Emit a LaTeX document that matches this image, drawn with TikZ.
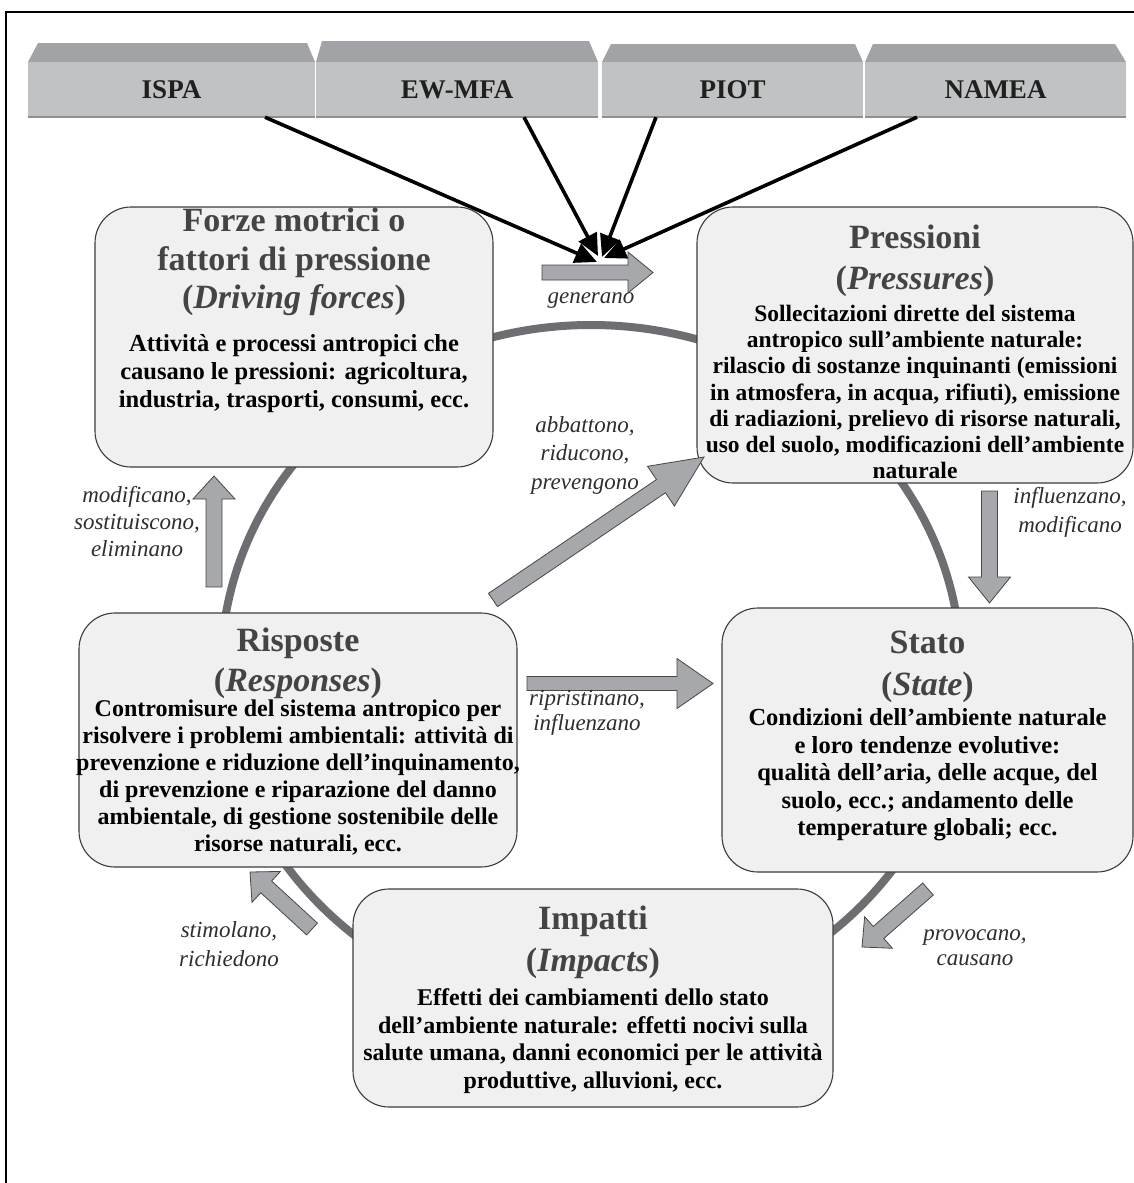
\documentclass[tikz,border=0pt]{standalone}
\usepackage{fontspec}
\setmainfont{Liberation Serif}
\usetikzlibrary{calc,arrows.meta}

\definecolor{boxfill}{HTML}{F0F0F0}
\definecolor{boxline}{HTML}{3C3C3C}
\definecolor{ringgray}{HTML}{6D6E71}
\definecolor{arrowgray}{HTML}{A6A8AB}
\definecolor{titlegray}{HTML}{444444}
\definecolor{tabface}{HTML}{C1C2C4}
\definecolor{tabtop}{HTML}{A2A3A6}
\definecolor{tabshadow}{HTML}{8E8F92}

% wide grey block arrow: tail, tip, shaft half-width, head half-width, head length
\newcommand\garrow[5]{%
  \coordinate (hb) at ($(#2)!#5!(#1)$);
  \draw[blockarrow] ($(#1)!#3!90:(#2)$) -- ($(hb)!#3!90:(#2)$) -- ($(hb)!#4!90:(#2)$)
    -- (#2) -- ($(hb)!#4!-90:(#2)$) -- ($(hb)!#3!-90:(#2)$) -- ($(#1)!#3!-90:(#2)$) -- cycle;}

\begin{document}
\begin{tikzpicture}[x=1pt,y=-1pt,
  box/.style={draw=boxline, fill=boxfill, line width=1.1pt, rounded corners=36pt, inner sep=0pt},
  title/.style={text=titlegray, align=center, inner sep=0pt},
  body/.style={text=black, align=center, inner sep=0pt},
  lab/.style={text=black!82, font=\fontsize{23}{27}\selectfont\itshape, align=center, inner sep=0pt},
  blockarrow/.style={fill=arrowgray, draw=black!72, line width=0.8pt, line join=miter},
  feed/.style={line width=3.6pt, -{Triangle[length=22pt,width=20pt]}},
  ring/.style={draw=ringgray, line width=8pt},
  tab/.style={fill=tabface, minimum height=55pt, inner sep=0pt, text=black!88,
    font=\fontsize{27}{30}\selectfont\bfseries},
]
\useasboundingbox (0,0) rectangle (1134,1183);
\fill[white] (0,0) rectangle (1134,1183);

% outer frame
\draw[line width=1.8pt] (6,1184) -- (6,12) -- (1135,12);

% cycle ring behind the boxes
\draw[ring] (591,670) ellipse [x radius=370, y radius=345];

% accounting tabs
\fill[tabtop] (28,62) -- (38,43) -- (307,43) -- (315,62) -- cycle;
\node[tab, minimum width=287pt] (ispa) at (171.5,89.5) {ISPA};
\fill[tabtop] (316,62) -- (322,41) -- (589,41) -- (598,62) -- cycle;
\node[tab, minimum width=282pt] (ewmfa) at (457,89.5) {EW-MFA};
\fill[tabtop] (602,62) -- (611,44) -- (855,44) -- (863,62) -- cycle;
\node[tab, minimum width=261pt] (piot) at (732.5,89.5) {PIOT};
\fill[tabtop] (865,62) -- (873,44) -- (1115,44) -- (1126,62) -- cycle;
\node[tab, minimum width=261pt] (namea) at (995.5,89.5) {NAMEA};
\foreach \t in {ispa,ewmfa,piot,namea}
  \draw[tabshadow, line width=2pt] (\t.south west) -- (\t.south east);

% DPSIR boxes
\node[box, minimum width=398pt, minimum height=260pt] (D) at (294,337) {};
\node[box, minimum width=436pt, minimum height=276pt] (P) at (915,345) {};
\node[box, minimum width=438pt, minimum height=254pt] (R) at (298,740) {};
\node[box, minimum width=411pt, minimum height=264pt] (S) at (927.5,740) {};
\node[box, minimum width=480pt, minimum height=218pt] (I) at (593,998) {};

% box texts
\node[title, font=\fontsize{34}{38.5}\selectfont\bfseries] (Dt) at (294,262)
  {Forze motrici o\\fattori di pressione\\(\textit{Driving forces})};
\node[body, font=\fontsize{24.5}{28}\selectfont\bfseries] (Db) at (294,374)
  {Attività e processi antropici che\\causano le pressioni: agricoltura,\\industria, trasporti, consumi, ecc.};

\node[title, font=\fontsize{34}{41}\selectfont\bfseries] (Pt) at (915,260.5)
  {Pressioni\\(\textit{Pressures})};
\node[body, font=\fontsize{23.5}{26.3}\selectfont\bfseries] (Pb) at (915,392)
  {Sollecitazioni dirette del sistema\\antropico sull’ambiente naturale:\\rilascio di sostanze inquinanti (emissioni\\in atmosfera, in acqua, rifiuti), emissione\\di radiazioni, prelievo di risorse naturali,\\uso del suolo, modificazioni dell’ambiente\\naturale};

\node[title, font=\fontsize{34}{40}\selectfont\bfseries] (Rt) at (298,663)
  {Risposte\\(\textit{Responses})};
\node[body, font=\fontsize{24}{27}\selectfont\bfseries] (Rb) at (298,778)
  {Contromisure del sistema antropico per\\risolvere i problemi ambientali: attività di\\prevenzione e riduzione dell’inquinamento,\\di prevenzione e riparazione del danno\\ambientale, di gestione sostenibile delle\\risorse naturali, ecc.};

\node[title, font=\fontsize{34}{42}\selectfont\bfseries] (St) at (927.5,667)
  {Stato\\(\textit{State})};
\node[body, font=\fontsize{24.5}{27.5}\selectfont\bfseries] (Sb) at (927.5,775)
  {Condizioni dell’ambiente naturale\\e loro tendenze evolutive:\\qualità dell’aria, delle acque, del\\suolo, ecc.; andamento delle\\temperature globali; ecc.};

\node[title, font=\fontsize{34}{42}\selectfont\bfseries] (It) at (593,942)
  {Impatti\\(\textit{Impacts})};
\node[body, font=\fontsize{24}{27.7}\selectfont\bfseries] (Ib) at (593,1041)
  {Effetti dei cambiamenti dello stato\\dell’ambiente naturale: effetti nocivi sulla\\salute umana, danni economici per le attività\\produttive, alluvioni, ecc.};

% data sources feeding the pressures
\coordinate (tA) at (597,262);
\coordinate (tB) at (598,256);
\coordinate (tC) at (602,257);
\coordinate (tD) at (604,258);
\draw[feed] ($(ispa.south)+(93.5,0)$) -- (tA);
\draw[feed] ($(ewmfa.south)+(67,0)$) -- (tB);
\draw[feed] ($(piot.south)+(-76.5,0)$) -- (tC);
\draw[feed] ($(namea.south)+(-78.5,0)$) -- (tD);

% grey block arrows between the boxes
\coordinate (g0) at (542,272.5);  \coordinate (g1) at (653,272.5);
\garrow{g0}{g1}{7.5pt}{20.5pt}{25pt}
\coordinate (m0) at (214,587);    \coordinate (m1) at (214,476);
\garrow{m0}{m1}{8pt}{21pt}{23pt}
\coordinate (a0) at (493,600);    \coordinate (a1) at (704,457);
\garrow{a0}{a1}{8pt}{24pt}{52pt}
\coordinate (f0) at (989.5,491);  \coordinate (f1) at (989.5,603);
\garrow{f0}{f1}{8pt}{21pt}{26pt}
\coordinate (r0) at (527,683.5);  \coordinate (r1) at (713,683.5);
\garrow{r0}{r1}{7pt}{25pt}{36pt}
\coordinate (s0) at (312,929);    \coordinate (s1) at (250,872);
\garrow{s0}{s1}{8pt}{21pt}{22pt}
\coordinate (p0) at (928,889);    \coordinate (p1) at (862,947);
\garrow{p0}{p1}{8pt}{21pt}{22pt}

% arrow labels
\node[lab] (lg) at (591,301) {generano};
\node[lab, font=\fontsize{23}{28.5}\selectfont\itshape] (la) at (585,455) {abbattono,\\riducono,\\prevengono};
\node[lab] (lm) at (137,522) {modificano,\\sostituiscono,\\eliminano};
\node[lab, font=\fontsize{23}{29}\selectfont\itshape] (lf) at (1070,512) {influenzano,\\modificano};
\node[lab, font=\fontsize{23}{25}\selectfont\itshape] (lr) at (587,713) {ripristinano,\\influenzano};
\node[lab, font=\fontsize{23}{29}\selectfont\itshape] (ls) at (229,944.5) {stimolano,\\richiedono};
\node[lab, font=\fontsize{23}{25}\selectfont\itshape] (lp) at (975,947.5) {provocano,\\causano};
\end{tikzpicture}
\end{document}
